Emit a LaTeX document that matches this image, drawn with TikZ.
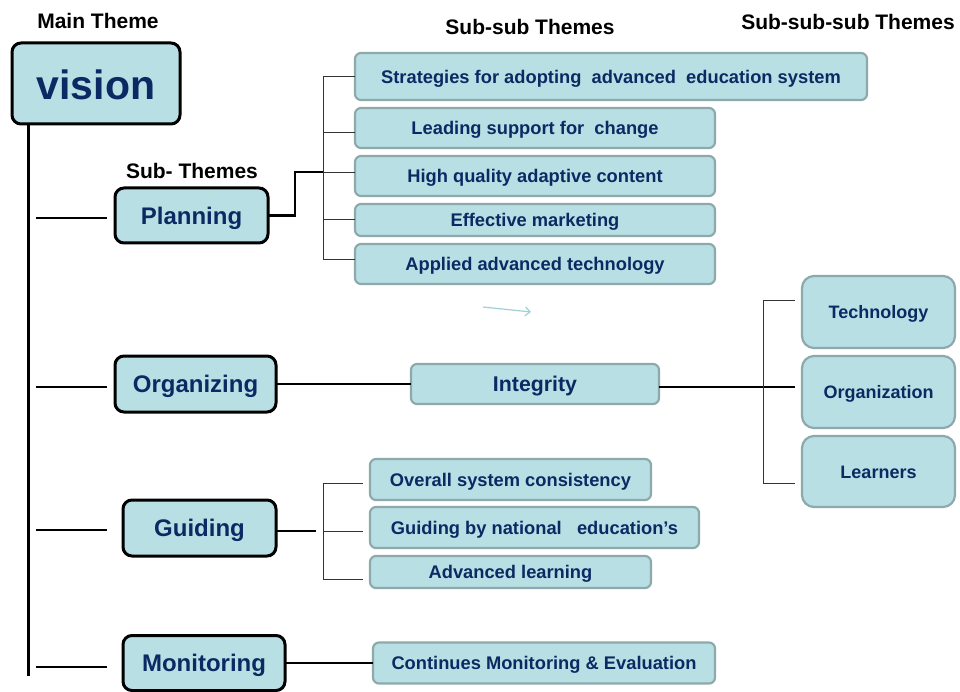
\documentclass[tikz,border=0pt]{standalone}
\usepackage{fontspec}
\setmainfont{Liberation Sans}
\usetikzlibrary{arrows.meta}
\definecolor{navy}{HTML}{0B2A63}
\definecolor{boxfill}{HTML}{B8DFE3}
\definecolor{subedge}{HTML}{8EA9AB}
\definecolor{arrowc}{HTML}{9FD0D6}
\tikzset{
  mainbox/.style={draw=black, line width=3pt, fill=boxfill, rounded corners=9pt, text=navy, font=\bfseries\fontsize{24}{26}\selectfont, inner sep=0pt, outer sep=0pt, text height=17.3pt, text depth=0pt},
  subbox/.style={draw=subedge, line width=2.2pt, fill=boxfill, rounded corners=6pt, text=navy, font=\bfseries\fontsize{18.3}{20}\selectfont, inner sep=0pt, outer sep=0pt, minimum width=360pt, text height=13.2pt, text depth=0pt},
  rightbox/.style={subbox, font=\bfseries\fontsize{18}{20}\selectfont, rounded corners=12pt, minimum width=153pt, minimum height=72pt, text height=13pt},
  hdr/.style={text=black, font=\bfseries\fontsize{21}{23}\selectfont, inner sep=0pt, text height=15.1pt, text depth=0pt},
  trunk/.style={draw=black, line width=3pt},
  branch/.style={draw=black, line width=2pt},
  conn/.style={draw=black, line width=2.5pt},
  brk/.style={draw=black!80, line width=0.9pt},
}
\begin{document}
\begin{tikzpicture}[x=1pt,y=-1pt]
\useasboundingbox (0,0) rectangle (960,692);
% headers
\node[hdr] (hmain) at (98,21) {Main Theme};
\node[hdr] (hsub) at (192,171) {Sub- Themes};
\node[hdr] (hsubsub) at (530,27) {Sub-sub Themes};
\node[hdr] (hsss) at (848,22) {Sub-sub-sub Themes};
% main nodes
\node[mainbox, minimum width=168pt, minimum height=81pt, font=\bfseries\fontsize{41}{44}\selectfont, text height=32pt] (vision) at (96,83.5) {vision};
\node[mainbox, minimum width=153pt, minimum height=55pt] (planning) at (191.5,215.5) {Planning};
\node[mainbox, minimum width=161pt, minimum height=56pt] (organizing) at (195.5,384) {Organizing};
\node[mainbox, minimum width=153pt, minimum height=56pt] (guiding) at (199.5,528) {Guiding};
\node[mainbox, minimum width=162pt, minimum height=55pt] (monitoring) at (204,663) {Monitoring};
% planning sub-sub
\node[subbox, minimum width=512pt, minimum height=47pt] (s1) at (611,76.5) {Strategies for adopting\ \ advanced\ \ education system};
\node[subbox, minimum height=40pt] (s2) at (535,128) {Leading support for\ \ change};
\node[subbox, minimum height=40pt] (s3) at (535,176) {High quality adaptive content};
\node[subbox, minimum height=32pt] (s4) at (535,220) {Effective marketing};
\node[subbox, minimum height=40pt] (s5) at (535,264) {Applied advanced technology};
% organizing
\node[subbox, minimum width=248pt, minimum height=40pt, font=\bfseries\fontsize{21.3}{23}\selectfont, text height=15.3pt] (integrity) at (535,384) {Integrity};
\node[rightbox] (tech) at (878.5,312) {Technology};
\node[rightbox] (org) at (878.5,392) {Organization};
\node[rightbox, minimum height=71pt] (learn) at (878.5,471.5) {Learners};
% guiding
\node[subbox, minimum width=281pt, minimum height=41pt] (g1) at (510.5,479.5) {Overall system consistency};
\node[subbox, minimum width=329pt, minimum height=41pt] (g2) at (534.5,527.5) {Guiding by national\ \ \ education’s};
\node[subbox, minimum width=281pt, minimum height=32pt] (g3) at (510.5,572) {Advanced learning};
% monitoring
\node[subbox, minimum width=342pt, minimum height=41pt] (cont) at (544,663) {Continues Monitoring \& Evaluation};
% coordinates
\coordinate (trunkend) at (28,676);
\coordinate (b1s) at (36,218); \coordinate (b1e) at (107,218);
\coordinate (b2s) at (36,387); \coordinate (b2e) at (107,387);
\coordinate (b3s) at (36,530); \coordinate (b3e) at (107,530);
\coordinate (b4s) at (36,667); \coordinate (b4e) at (107,667);
\coordinate (pb) at (323,172);
\coordinate (pb1) at (323,76);
\coordinate (pb2) at (323,132);
\coordinate (pb4) at (323,219);
\coordinate (pb5) at (323,259);
\coordinate (ie) at (795,387);
\coordinate (rb1) at (763,300); \coordinate (rb1e) at (795,300);
\coordinate (rb3) at (763,483); \coordinate (rb3e) at (795,483);
\coordinate (gm) at (316,531);
\coordinate (gb1) at (323,483); \coordinate (gb1e) at (363,483);
\coordinate (gb2) at (323,531); \coordinate (gb2e) at (363,531);
\coordinate (gb3) at (323,579); \coordinate (gb3e) at (363,579);
\coordinate (arrs) at (483,307); \coordinate (arre) at (531,312);
% trunk and branches
\draw[trunk] (vision.south -| trunkend) -- (trunkend);
\draw[branch] (b1s) -- (b1e);
\draw[branch] (b2s) -- (b2e);
\draw[branch] (b3s) -- (b3e);
\draw[branch] (b4s) -- (b4e);
% planning connectors
\draw[conn] (planning.east) -- ++(27,0) |- (pb);
\draw[brk] (pb1) -- (pb5);
\draw[brk] (pb1) -- (pb1 -| s1.west);
\draw[brk] (pb2) -- (pb2 -| s2.west);
\draw[brk] (pb) -- (pb -| s3.west);
\draw[brk] (pb4) -- (pb4 -| s4.west);
\draw[brk] (pb5) -- (pb5 -| s5.west);
% organizing connectors
\draw[conn] (organizing.east) -- (integrity.west);
\draw[conn] (integrity.east |- ie) -- (ie);
\draw[brk] (rb1) -- (rb3);
\draw[brk] (rb1) -- (rb1e);
\draw[brk] (rb3) -- (rb3e);
% guiding connectors
\draw[conn] (guiding.east |- gm) -- (gm);
\draw[brk] (gb1) -- (gb3);
\draw[brk] (gb1) -- (gb1e);
\draw[brk] (gb2) -- (gb2e);
\draw[brk] (gb3) -- (gb3e);
% monitoring connector
\draw[branch] (monitoring.east) -- (cont.west);
% small arrow
\draw[draw=arrowc, line width=1.2pt, -{Straight Barb[length=5pt,width=9pt]}] (arrs) -- (arre);
\end{tikzpicture}
\end{document}
